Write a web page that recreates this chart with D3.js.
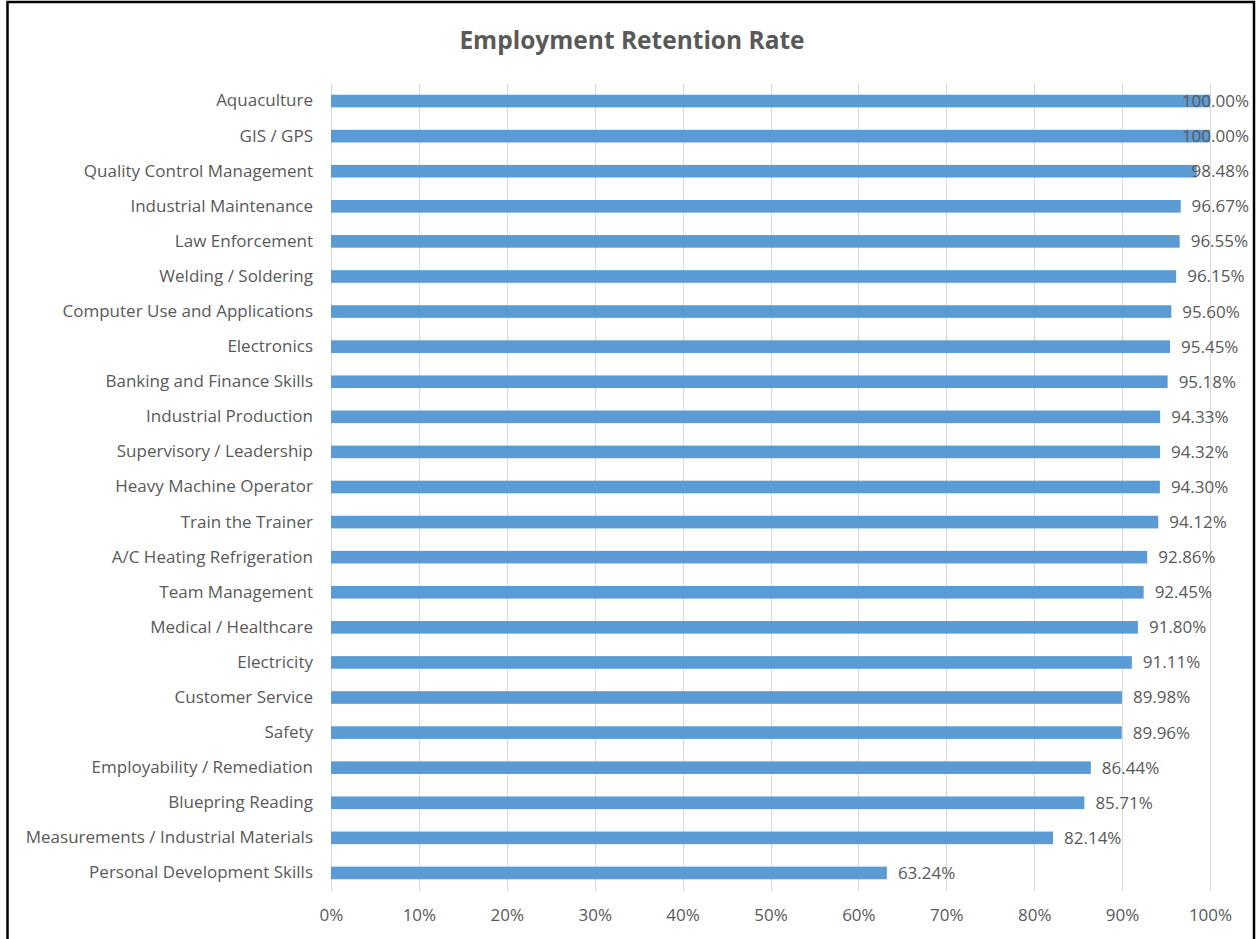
<!DOCTYPE html>
<html>
<head>
<meta charset="utf-8">
<script src="https://cdn.jsdelivr.net/npm/d3@7"></script>
<style>
  body { margin: 0; background: #fff; }
  svg { display: block; font-family: "Open Sans", "Liberation Sans", sans-serif; }
</style>
</head>
<body>
<svg id="chart" width="1257" height="939"></svg>
<script>
// Categories, top to bottom
const categories = [
  'Aquaculture', 'GIS / GPS', 'Quality Control Management', 'Industrial Maintenance',
  'Law Enforcement', 'Welding / Soldering', 'Computer Use and Applications', 'Electronics',
  'Banking and Finance Skills', 'Industrial Production', 'Supervisory / Leadership',
  'Heavy Machine Operator', 'Train the Trainer', 'A/C Heating Refrigeration',
  'Team Management', 'Medical / Healthcare', 'Electricity', 'Customer Service', 'Safety',
  'Employability / Remediation', 'Bluepring Reading', 'Measurements / Industrial Materials',
  'Personal Development Skills',
];

// Retention rate (fraction)
const retention = [
  1.0, 1.0, 0.9848, 0.9667, 0.9655, 0.9615, 0.956, 0.9545, 0.9518, 0.9433, 0.9432,
  0.943, 0.9412, 0.9286, 0.9245, 0.918, 0.9111, 0.8998, 0.8996, 0.8644, 0.8571,
  0.8214, 0.6324,
];

const xTicks = [0, 0.1, 0.2, 0.3, 0.4, 0.5, 0.6, 0.7, 0.8, 0.9, 1.0];

const svg = d3.select('#chart');

const textColor = '#595959';
const barColor = '#5B9BD5';
const gridColor = '#D9D9D9';
const labelSize = 17;

// Outer border
svg.append('rect')
  .attr('x', 7.5).attr('y', 2)
  .attr('width', 1246.5).attr('height', 945)
  .attr('fill', '#fff')
  .attr('stroke', '#000')
  .attr('stroke-width', 2.5);

// Title
svg.append('text')
  .attr('x', 632).attr('y', 49)
  .attr('text-anchor', 'middle')
  .attr('font-size', 24.5)
  .attr('font-weight', 'bold')
  .attr('fill', textColor)
  .text('Employment Retention Rate');

const x = d3.scaleLinear().domain([0, 1]).range([331, 1210]);
const y = d3.scaleBand().domain(categories).range([83.5, 890.5]).paddingInner(0.64).paddingOuter(0.32);

// Gridlines
svg.append('g')
  .selectAll('line')
  .data(xTicks)
  .join('line')
  .attr('x1', (d) => Math.round(x(d)) + 0.5)
  .attr('x2', (d) => Math.round(x(d)) + 0.5)
  .attr('y1', 84)
  .attr('y2', 891)
  .attr('stroke', gridColor)
  .attr('stroke-width', 1);

// X axis labels
const xAxis = svg.append('g')
  .attr('transform', 'translate(0,891)')
  .call(d3.axisBottom(x).tickValues(xTicks).tickFormat(d3.format('.0%')).tickSize(0).tickPadding(18));
xAxis.select('.domain').remove();
xAxis.selectAll('text')
  .attr('font-size', labelSize)
  .attr('font-family', '"Open Sans", sans-serif')
  .attr('fill', textColor);

// Y axis labels
const yAxis = svg.append('g')
  .attr('transform', 'translate(331,0)')
  .call(d3.axisLeft(y).tickSize(0).tickPadding(18));
yAxis.select('.domain').remove();
yAxis.selectAll('text')
  .attr('font-size', labelSize)
  .attr('font-family', '"Open Sans", sans-serif')
  .attr('fill', textColor);

// Bars
const rows = categories.map((c, i) => ({ name: c, value: retention[i] }));

svg.append('g')
  .selectAll('rect')
  .data(rows)
  .join('rect')
  .attr('x', x(0))
  .attr('y', (d) => y(d.name))
  .attr('width', (d) => x(d.value) - x(0))
  .attr('height', y.bandwidth())
  .attr('fill', barColor);

// Value labels (pushed back inside the chart area when they would overflow)
const rightLimit = 1249;
svg.append('g')
  .selectAll('text')
  .data(rows)
  .join('text')
  .attr('y', (d) => y(d.name) + y.bandwidth() / 2)
  .attr('dy', '0.35em')
  .attr('font-size', labelSize)
  .attr('fill', textColor)
  .text((d) => d3.format('.2%')(d.value))
  .attr('x', function (d) {
    const w = this.getComputedTextLength();
    return Math.min(x(d.value) + 11, rightLimit - w);
  });
</script>
</body>
</html>
